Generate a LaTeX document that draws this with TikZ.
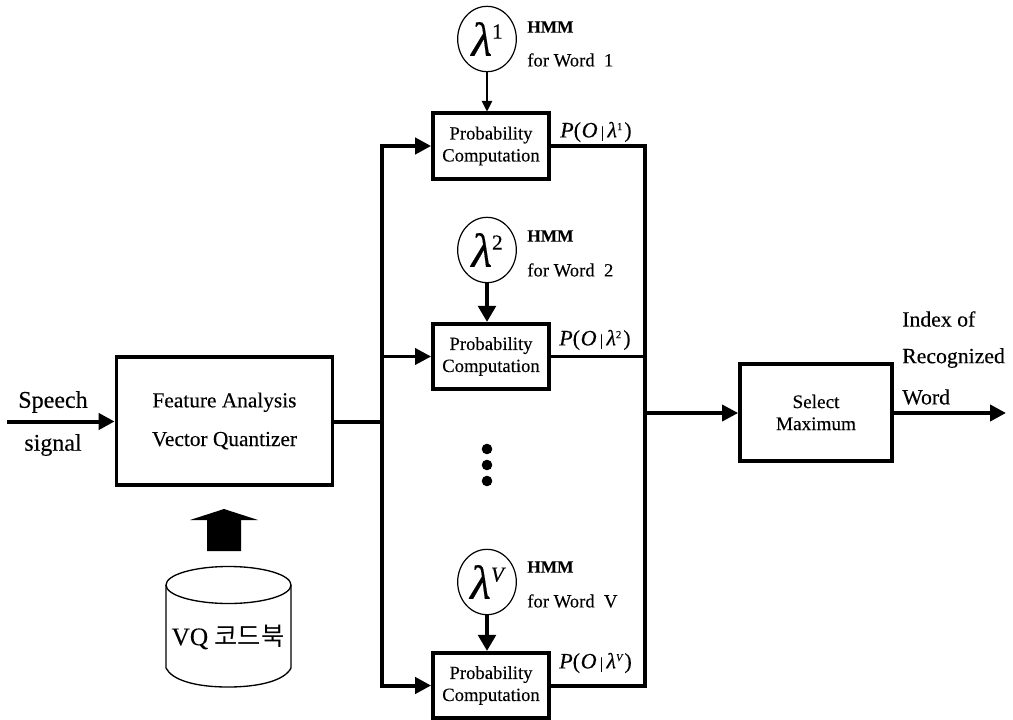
\documentclass[tikz,border=0pt]{standalone}
\usepackage{fontspec}
\setmainfont[FakeBold=0.25]{Liberation Serif}
\newfontfamily\krfont{Noto Sans CJK KR}
\newcommand{\itfam}{\itshape}
\usetikzlibrary{arrows.meta,shapes.geometric}
\tikzset{
 x=0.75pt,y=-0.75pt,
 box/.style={draw,line width=2.8pt,inner sep=0pt,align=center,font=\fontsize{14}{16.5}\selectfont},
 probbox/.style={box,minimum width=87pt,minimum height=49pt},
 lam/.style={draw,ellipse,line width=0.9pt,minimum width=44pt,minimum height=49pt,inner sep=0pt},
 bus/.style={line width=3pt},
 thin bus/.style={line width=2.3pt},
 flow/.style={line width=3pt,-{Triangle[length=12pt,width=12pt]}},
 thin flow/.style={line width=2.6pt,-{Triangle[length=12pt,width=12pt]}},
 feed/.style={line width=0.8pt,-{Triangle[length=8pt,width=8pt]}},
 feedb/.style={line width=3.6pt,-{Triangle[length=12pt,width=13pt]}},
 lbl/.style={inner sep=0pt},
 side/.style={inner sep=0pt,font=\fontsize{16.3}{18}\selectfont,anchor=west},
 hmm/.style={inner sep=0pt,anchor=west,font=\fontsize{14}{16}\selectfont},
 hmmb/.style={inner sep=0pt,anchor=west,font=\fontsize{13}{15}\bfseries\selectfont},
 pl/.style={inner sep=0pt,anchor=west,font=\fontsize{16.5}{18}\selectfont},
}
\newcommand{\biglam}[1]{{\fontsize{36}{38}\selectfont\itfam λ}\raisebox{13pt}{\fontsize{16}{18}\selectfont #1}}
\newcommand{\pofl}[1]{{\itfam P}(\kern0.5pt{\itfam O}\kern2.5pt{\fontsize{12}{12}\selectfont|}\kern2.5pt{\itfam λ}\raisebox{5.5pt}{\fontsize{8}{9}\selectfont #1}\kern1.5pt)}
\begin{document}
\begin{tikzpicture}
\useasboundingbox (0,0) rectangle (1013,720);
% blocks
\node[box,minimum width=162pt,minimum height=96pt,font=\fontsize{16}{29}\selectfont] (fa) at (224.5,421) {Feature Analysis\\Vector Quantizer};
\node[probbox] (p1) at (491,146) {Probability\\Computation};
\node[probbox] (p2) at (491,356.5) {Probability\\Computation};
\node[probbox] (p3) at (491,685.5) {Probability\\Computation};
\node[box,minimum width=114pt,minimum height=73pt,font=\fontsize{14.4}{16.5}\selectfont] (sel) at (816,412.5) {Select\\Maximum};
% models
\node[lam] (l1) at (487,39) {\biglam{1}};
\node[lam] (l2) at (487,250) {\biglam{2}};
\node[lam] (l3) at (487,582) {\biglam{\itfam V}};
\draw[feed] (l1) -- (p1.north -| l1);
\draw[feedb] (l2) -- (p2.north -| l2);
\draw[feedb] (l3) -- (p3.north -| l3);
% HMM labels
\node[hmmb] (h1) at (527,27) {HMM};
\node[hmm] (w1) at (527,60) {for Word\ \ 1};
\node[hmmb] (h2) at (527,236) {HMM};
\node[hmm] (w2) at (527,270) {for Word\ \ 2};
\node[hmmb] (h3) at (527,567) {HMM};
\node[hmm] (w3) at (527,601) {for Word\ \ V};
% P labels
\node[pl] (pl1) at (560,132) {\pofl{1}};
\node[pl] (pl2) at (559,340) {\pofl{2}};
\node[pl] (pl3) at (559,663) {\pofl{\itfam V}};
% input
\coordinate (in) at (7,421.5);
\draw[flow] (in) -- (fa.west |- in);
\node[lbl,font=\fontsize{18}{20}\selectfont] (sp) at (53,402) {Speech};
\node[lbl,font=\fontsize{18}{20}\selectfont] (si) at (53,445) {signal};
% distribution bus
\coordinate (bj) at (382,421.5);
\coordinate (bt) at (382,146);
\coordinate (bb) at (382,685.5);
\draw[bus] (fa.east |- bj) -- (bj);
\draw[bus,line cap=rect] (bt) -- (bb);
\draw[flow] (bt) -- (p1.west);
\draw[thin flow] (bj |- p2.west) -- (p2.west);
\draw[flow] (bb) -- (p3.west);
% collection bus
\coordinate (ct) at (645,146);
\coordinate (cm) at (645,356.5);
\coordinate (cb) at (645,685.5);
\coordinate (cj) at (645,413);
\draw[bus] (p1.east) -- (ct);
\draw[thin bus] (p2.east) -- (cm);
\draw[bus] (p3.east) -- (cb);
\draw[bus,line cap=rect] (ct) -- (cb);
\draw[thin flow] (cj) -- (sel.west |- cj);
\coordinate (out) at (1006,413);
\draw[flow] (sel.east |- out) -- (out);
\node[side] (o1) at (902,319) {Index of};
\node[side] (o2) at (902,358) {Recognized};
\node[side] (o3) at (902,397) {Word};
% dots
\fill (487,449) circle (5.3) (487,465) circle (5.3) (487,481) circle (5.3);
% fat arrow
\fill (224,509) -- (258,520) -- (241,520) -- (241,551) -- (207,551) -- (207,520) -- (190,520) -- cycle;
% cylinder
\draw[line width=1pt,fill=white] (166,585) -- (166,668) .. controls (172,680) and (195,687) .. (228,687) .. controls (261,687) and (285,680) .. (291,668) -- (291,585);
\draw[line width=1pt] (228.5,585) ellipse (62.5 and 18.5);
\node[inner sep=0pt,font=\fontsize{19}{21}\selectfont] (vq) at (228,637) {VQ {\krfont 코드북}};
\end{tikzpicture}
\end{document}
